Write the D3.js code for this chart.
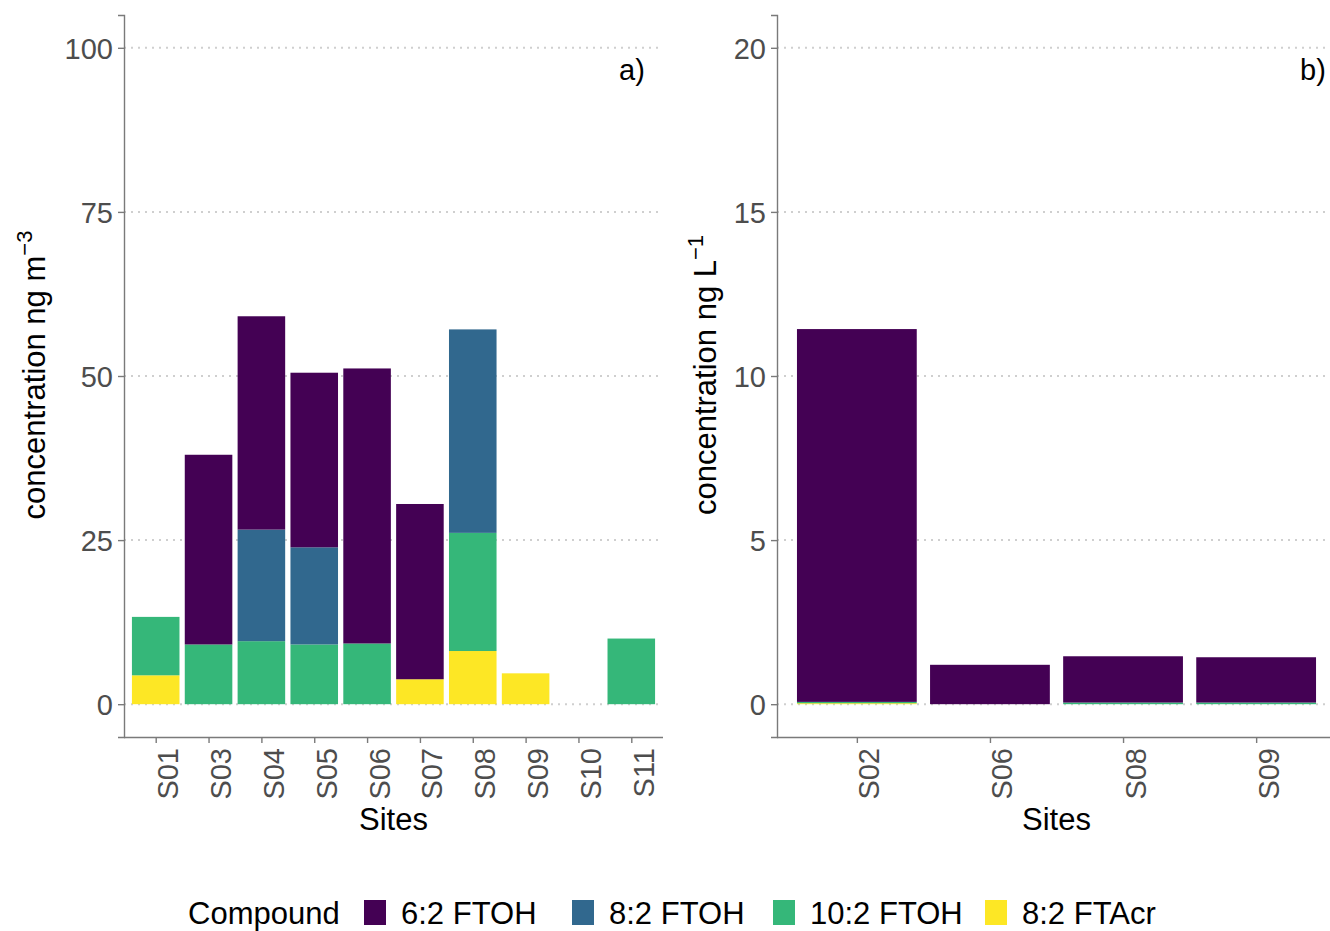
<!DOCTYPE html>
<html><head><meta charset="utf-8">
<script src="https://cdn.jsdelivr.net/npm/d3@7"></script>
<style>body{margin:0;background:#fff}svg{display:block}text{font-family:"Liberation Sans",Arial,sans-serif}</style>
</head><body><svg id="c" width="1330" height="931"></svg>
<script>
// ---------- data ----------
const compounds = ["6:2 FTOH", "8:2 FTOH", "10:2 FTOH", "8:2 FTAcr"];
const colors = ["#440154", "#31688E", "#35B779", "#FDE725"];

const sitesA = ["S01","S03","S04","S05","S06","S07","S08","S09","S10","S11"];
const a_FTOH62 = [0, 28.9, 32.5, 26.6, 41.9, 26.7, 0, 0, 0, 0];
const a_FTOH82 = [0, 0, 17.0, 14.8, 0, 0, 31.0, 0, 0, 0];
const a_FTOH102 = [8.9, 9.1, 9.6, 9.1, 9.25, 0, 18.0, 0, 0, 10.0];
const a_FTAcr82 = [4.4, 0, 0, 0, 0, 3.8, 8.1, 4.7, 0, 0];
const ticksA = [0, 25, 50, 75, 100];

const sitesB = ["S02","S06","S08","S09"];
const b_FTOH62 = [11.36, 1.2, 1.41, 1.38];
const b_FTOH82 = [0, 0, 0, 0];
const b_FTOH102 = [0.04, 0, 0.05, 0.05];
const b_FTAcr82 = [0.03, 0, 0, 0];
const ticksB = [0, 5, 10, 15, 20];

// ---------- drawing ----------
const svg = d3.select("#c");
const AXIS = "#7a7a7a", TICKTXT = "#4d4d4d", GRID = "#cfcfcf";

function panel(o) {
  const g = svg.append("g");
  // ggplot-like discrete scale: 0.6 step expansion each side, bars 0.9 of a step
  const x = d3.scaleBand().domain(o.sites)
    .range([o.x0, o.x1]).paddingInner(0).paddingOuter(0.1);
  const step = x.step();
  const xc = s => x(s) + step / 2;
  const bw = 0.9 * step;
  const y = d3.scaleLinear().domain(o.ydom).range([737, 15]);

  // grid
  g.append("g").selectAll("line").data(o.ticks).join("line")
    .attr("x1", o.x0).attr("x2", o.x1).attr("y1", d => y(d)).attr("y2", d => y(d))
    .attr("stroke", GRID).attr("stroke-width", 2).attr("stroke-dasharray", "2,5");

  // stacked bars: bottom first = 8:2 FTAcr, 10:2, 8:2, 6:2 on top
  const series = [o.s62, o.s82, o.s102, o.sAcr];
  const order = [3, 2, 1, 0];
  o.sites.forEach((s, i) => {
    let base = 0;
    order.forEach(k => {
      const v = series[k][i];
      if (v > 0) {
        g.append("rect").attr("x", xc(s) - bw / 2).attr("width", bw)
          .attr("y", y(base + v)).attr("height", y(base) - y(base + v))
          .attr("fill", colors[k]);
      }
      base += v;
    });
  });

  // y axis
  const ya = d3.axisLeft(y).tickValues(o.ticks).tickSize(6).tickPadding(5);
  const yg = g.append("g").attr("transform", `translate(${o.x0},0)`).call(ya);
  yg.select(".domain").attr("stroke", AXIS).attr("stroke-width", 1.4);
  yg.selectAll(".tick line").attr("stroke", AXIS).attr("stroke-width", 1.4);
  yg.selectAll(".tick text").attr("fill", TICKTXT).attr("font-size", 29).attr("dy", "0.36em")
    .style("font-family", "Liberation Sans, Arial, sans-serif");

  // x axis
  const xs = d3.scalePoint().domain(o.sites).range([xc(o.sites[0]), xc(o.sites[o.sites.length - 1])]);
  const xa = d3.axisBottom(xs).tickSize(6).tickSizeOuter(0);
  const xg = g.append("g").attr("transform", "translate(0,737)").call(xa);
  xg.select(".domain").attr("stroke", AXIS).attr("stroke-width", 1.4)
    .attr("d", `M${o.x0},0.5H${o.x1}`);
  xg.selectAll(".tick line").attr("stroke", AXIS).attr("stroke-width", 1.4);
  xg.selectAll(".tick text").attr("fill", TICKTXT).attr("font-size", 29)
    .style("font-family", "Liberation Sans, Arial, sans-serif")
    .attr("text-anchor", "end").attr("transform", "translate(22,11) rotate(-90)")
    .attr("x", 0).attr("y", 0).attr("dy", 0);

  // axis titles
  g.append("text").attr("x", (o.x0 + o.x1) / 2).attr("y", 830).attr("text-anchor", "middle")
    .attr("font-size", 31).attr("fill", "#000").text("Sites");
  const yt = g.append("text").attr("transform", `translate(${o.ytX},375) rotate(-90)`)
    .attr("text-anchor", "middle").attr("font-size", 31).attr("fill", "#000");
  yt.append("tspan").text(o.ylab);
  yt.append("tspan").attr("dy", -13).attr("font-size", 22).text(o.sup);

  // panel tag
  g.append("text").attr("x", o.tagX).attr("y", 80).attr("text-anchor", "middle")
    .attr("font-size", 29).attr("fill", "#000").text(o.tag);
}

panel({sites: sitesA, s62: a_FTOH62, s82: a_FTOH82, s102: a_FTOH102, sAcr: a_FTAcr82,
  x0: 124, x1: 663, ydom: [-5, 105], ticks: ticksA,
  ytX: 45, ylab: "concentration ng m", sup: "−3", tag: "a)", tagX: 632});

panel({sites: sitesB, s62: b_FTOH62, s82: b_FTOH82, s102: b_FTOH102, sAcr: b_FTAcr82,
  x0: 777, x1: 1336, ydom: [-1, 21], ticks: ticksB,
  ytX: 716, ylab: "concentration ng L", sup: "−1", tag: "b)", tagX: 1313});

// legend
const lg = svg.append("g");
lg.append("text").attr("x", 188).attr("y", 924).attr("font-size", 31).attr("fill", "#000").text("Compound");
const keyX = [364, 572, 773, 985];
compounds.forEach((c, i) => {
  lg.append("rect").attr("x", keyX[i]).attr("y", 900).attr("width", 22).attr("height", 25).attr("fill", colors[i]);
  lg.append("text").attr("x", keyX[i] + 37).attr("y", 924).attr("font-size", 31).attr("fill", "#000").text(c);
});
</script></body></html>
